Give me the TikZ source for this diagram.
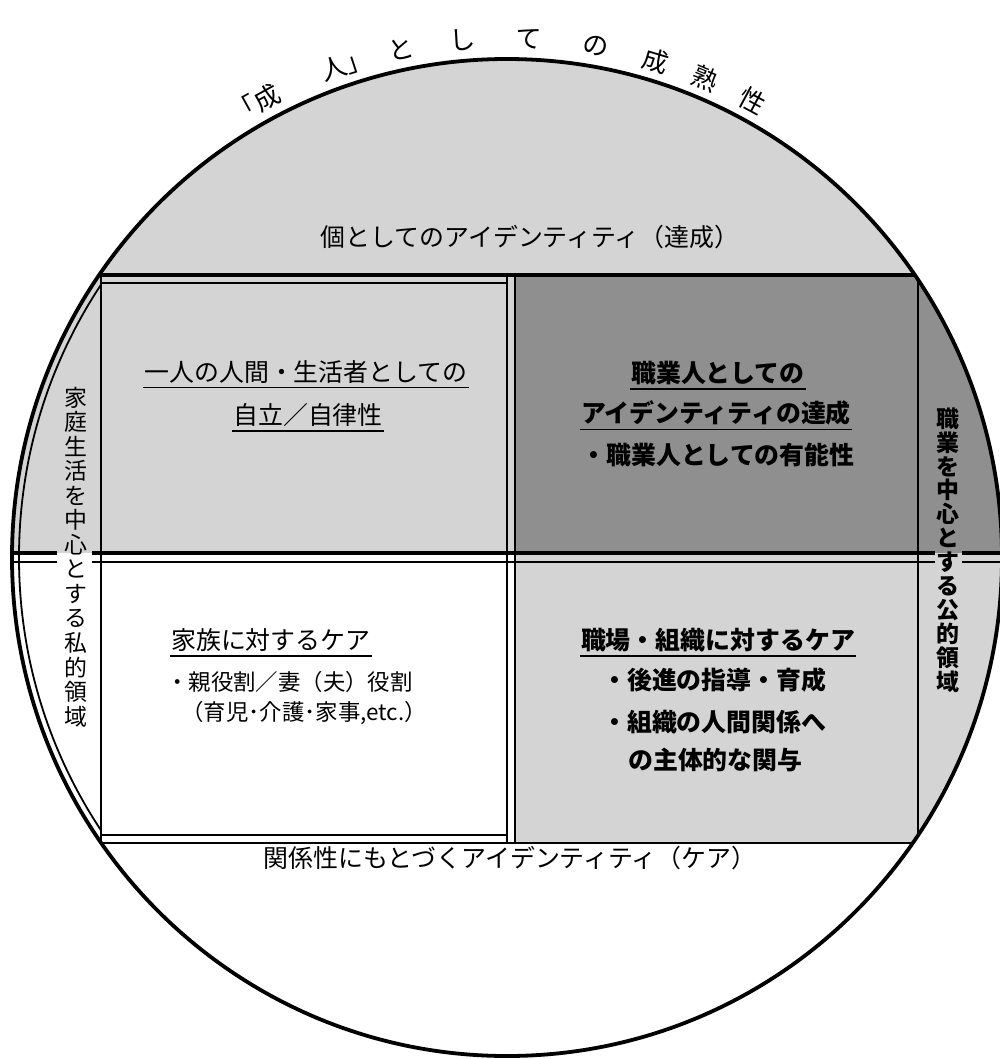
\documentclass[tikz,border=0pt]{standalone}
\usepackage{fontspec}
\setmainfont{Noto Sans CJK JP}
\usetikzlibrary{calc}
\definecolor{lightdot}{gray}{0.83}
\definecolor{darkhatch}{gray}{0.56}
\tikzset{
  body/.style={font=\fontsize{25}{28}\selectfont, inner sep=1bp},
  small/.style={font=\fontsize{22.5}{26}\selectfont, inner sep=1bp},
  boldtxt/.style={font=\fontsize{25}{28}\selectfont\bfseries, inner sep=1bp},
  arcchar/.style={font=\fontsize{26}{30}\selectfont, inner sep=0bp},
  vtext/.style={font=\fontsize{23}{24.6}\selectfont, align=center, inner sep=0bp},
  vboldtxt/.style={font=\fontsize{23}{24}\selectfont\bfseries, align=center, inner sep=0bp},
  ul/.style={line width=1.6bp},
  heavy/.style={line width=3.8bp},
  medium/.style={line width=2.8bp},
  thin/.style={line width=1.8bp}
}
\begin{document}
\begin{tikzpicture}[x=1bp,y=-1bp]
\useasboundingbox (0,0) rectangle (1000,1059);
\coordinate (c) at (507,557.5);
% fills
\begin{scope}
  \clip (c) ellipse [x radius=495, y radius=498.5];
  \fill[lightdot] (0,0) rectangle (1000,553);
  \fill[darkhatch] (515,275) rectangle (1000,553);
  \fill[lightdot] (515,553) rectangle (1000,843);
  % lines inside circle
  \draw[heavy] (0,275) -- (1000,275);
  \draw[thin] (101,283) -- (507,283);
  \draw[thin] (101,275) -- (101,843);
  \draw[thin] (507,275) -- (507,843);
  \draw[medium] (515,275) -- (515,843);
  \draw[medium] (918,275) -- (918,843);
  \draw[heavy] (0,553) -- (57,553) (92,553) -- (935,553) (962,553) -- (1000,553);
  \draw[thin] (0,562) -- (57,562) (92,562) -- (935,562) (962,562) -- (1000,562);
  \draw[thin] (101,835) -- (507,835);
  \draw[medium] (101,843) -- (918,843);
\end{scope}
% inner left arc
\begin{scope}
  \clip (0,275) rectangle (101,843);
  \draw[thin] (c) ellipse [x radius=488, y radius=491.5];
\end{scope}
% outer circle
\draw[heavy] (c) ellipse [x radius=495, y radius=498.5];

% arc title
\foreach \ch/\a [count=\i] in {「成/-29.0, 人」/-18.1, と/-11.8, し/-4.9, て/2.4, の/9.9, 成/16.7, 熟/22.5, 性/28.3}
  \node[arcchar, rotate=-\a, name=arc\i] at ({507+519*sin(\a)},{557.5-519*cos(\a)}) {\ch};

% top / bottom captions
\node[body] (topid) at (530,237) {個としてのアイデンティティ（達成）};
\node[body] (botid) at (510,858) {関係性にもとづくアイデンティティ（ケア）};

% upper left
\node[body] (ul1) at (306,372) {一人の人間・生活者としての};
\node[body] (ul2) at (308,415) {自立／自律性};
\draw[ul] ($(ul1.south west)+(0,3)$) -- ($(ul1.south east)+(0,3)$);
\draw[ul] ($(ul2.south west)+(0,3)$) -- ($(ul2.south east)+(0,3)$);

% upper right
\node[boldtxt] (ur1) at (718,373) {職業人としての};
\node[boldtxt] (ur2) at (716,413) {アイデンティティの達成};
\node[boldtxt] (ur3) at (718,455) {・職業人としての有能性};
\draw[ul] ($(ur1.south west)+(0,3)$) -- ($(ur1.south east)+(0,3)$);
\draw[ul] ($(ur2.south west)+(0,3)$) -- ($(ur2.south east)+(0,3)$);

% lower left
\node[body, anchor=west] (ll1) at (170,640) {家族に対するケア};
\draw[ul] ($(ll1.south west)+(0,3)$) -- ($(ll1.south east)+(0,3)$);
\node[small, anchor=west] (ll2) at (165,682) {・親役割／妻（夫）役割};
\node[small, anchor=west] (ll3) at (180,713) {（育児･介護･家事,etc.）};

% lower right
\node[boldtxt] (lr1) at (718,640) {職場・組織に対するケア};
\draw[ul] ($(lr1.south west)+(0,3)$) -- ($(lr1.south east)+(0,3)$);
\node[boldtxt, anchor=west] (lr2) at (601,680) {・後進の指導・育成};
\node[boldtxt, anchor=west] (lr3) at (601,722) {・組織の人間関係へ};
\node[boldtxt, anchor=west] (lr4) at (627,760) {の主体的な関与};

% vertical texts
\node[vtext] (lv) at (76,557) {家\\庭\\生\\活\\を\\中\\心\\と\\す\\る\\私\\的\\領\\域};
\node[vboldtxt] (rv) at (948,550) {職\\業\\を\\中\\心\\と\\す\\る\\公\\的\\領\\域};
\end{tikzpicture}
\end{document}
